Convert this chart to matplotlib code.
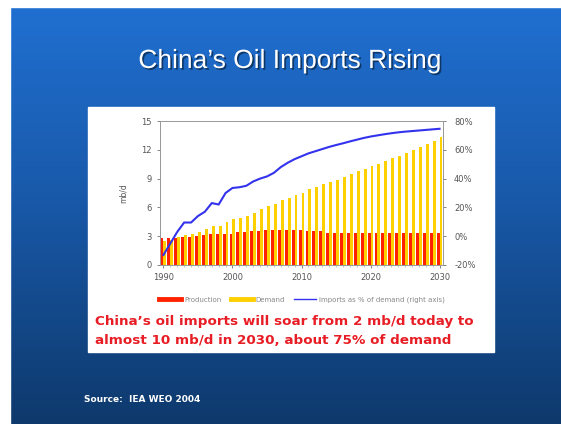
import numpy as np
import matplotlib
matplotlib.use("Agg")
import matplotlib.pyplot as plt
from matplotlib.lines import Line2D
from matplotlib.patches import Rectangle
import matplotlib.patheffects as pe

years = list(range(1990, 2031))
production = [2.8, 2.8, 2.85, 2.9, 2.95, 3.0, 3.15, 3.2, 3.2, 3.2,
              3.25, 3.4, 3.4, 3.5, 3.55, 3.6, 3.65, 3.6, 3.6, 3.6,
              3.6, 3.55, 3.55, 3.5, 3.3, 3.3, 3.3, 3.3, 3.3, 3.3,
              3.3, 3.3, 3.3, 3.3, 3.3, 3.3, 3.3, 3.3, 3.3, 3.3, 3.3]
demand = [2.45, 2.65, 2.9, 3.15, 3.2, 3.45, 3.7, 4.05, 4.1, 4.5,
          4.75, 4.85, 5.1, 5.45, 5.8, 6.1, 6.4, 6.75, 7.0, 7.25,
          7.5, 7.9, 8.15, 8.4, 8.65, 8.9, 9.2, 9.45, 9.75, 10.0,
          10.3, 10.55, 10.85, 11.1, 11.4, 11.65, 12.0, 12.3, 12.6, 12.95, 13.3]
imports_pct = [-13, -5, 3, 9.5, 9.5, 14, 17, 23, 22, 30,
               33.5, 34, 35, 38, 40, 41.5, 44, 48, 51, 53.5,
               55.5, 57.5, 59, 60.5, 62, 63.3, 64.5, 65.8, 67, 68.2,
               69.2, 70, 70.8, 71.5, 72.1, 72.6, 73, 73.4, 73.8, 74.2, 74.6]
left_ticks = [0, 3, 6, 9, 12, 15]
right_ticks = [-20, 0, 20, 40, 60, 80]
x_ticks = [1990, 2000, 2010, 2020, 2030]

W, H = 561, 424
fig = plt.figure(figsize=(W / 100, H / 100), dpi=100)

# background gradient
bg = fig.add_axes([0, 0, 1, 1], zorder=-10)
bg.set_axis_off()
top = np.array([0x20, 0x70, 0xd2]) / 255
mid = np.array([0x19, 0x5a, 0xab]) / 255
bot = np.array([0x0e, 0x39, 0x6c]) / 255
t = np.linspace(0, 1, 300)[:, None]
grad = np.where(t < 0.45, top + (mid - top) * (t / 0.45), mid + (bot - mid) * ((t - 0.45) / 0.55))
bg.imshow(grad[:, None, :].repeat(2, axis=1), aspect="auto", extent=[0, 1, 0, 1], origin="upper")
bg.set_xlim(0, 1)
bg.set_ylim(0, 1)
# white slide border (left and top)
bg.add_patch(Rectangle((0, 0), 10 / W, 1, color="white", transform=bg.transAxes))
bg.add_patch(Rectangle((0, 1 - 7 / H), 1, 7 / H, color="white", transform=bg.transAxes))
# white chart box
bg.add_patch(Rectangle((88 / W, 1 - 352 / H), 406 / W, 245 / H, color="white", transform=bg.transAxes))

# title
fig.text(290 / W, 1 - 61 / H, "China\u2019s Oil Imports Rising", color="white",
         fontsize=19, family="Liberation Sans", ha="center", va="center",
         path_effects=[pe.withSimplePatchShadow(offset=(1.2, -1.2), shadow_rgbFace="#0a2a50", alpha=0.8)])

# chart
ax = fig.add_axes([160 / W, 1 - 265 / H, 283 / W, 144 / H])
x = np.array(years)
ax.bar(x - 0.21, production, width=0.42, color="#ff2200", zorder=2)
ax.bar(x + 0.21, demand, width=0.42, color="#ffd000", zorder=2)
ax.set_xlim(1989.5, 2030.5)
ax.set_ylim(0, 15)
ax.set_yticks(left_ticks)
ax.set_xticks(x_ticks)
ax.set_xticks(years, minor=True)
ax.set_ylabel("mb/d", fontsize=5.5, color="#555555", labelpad=10)
for s in ax.spines.values():
    s.set_color("#999999")
    s.set_linewidth(0.6)
ax.tick_params(axis="both", labelsize=6, colors="#555555", length=2, width=0.5)
ax.tick_params(axis="x", which="minor", length=1.5, width=0.4, color="#999999")
ax.tick_params(axis="x", pad=4)
ax.tick_params(axis="y", pad=4)

ax2 = ax.twinx()
ax2.plot(x, imports_pct, color="#3333ee", lw=1.5, zorder=3)
ax2.set_ylim(-20, 80)
ax2.set_yticks(right_ticks)
ax2.set_yticklabels([f"{v}%" for v in right_ticks])
ax2.tick_params(axis="y", labelsize=6, colors="#555555", length=2, width=0.5, pad=6)
for s in ax2.spines.values():
    s.set_color("#999999")
    s.set_linewidth(0.6)

# legend
handles = [Line2D([0], [0], color="#ff2200", lw=3.5),
           Line2D([0], [0], color="#ffd000", lw=3.5),
           Line2D([0], [0], color="#3333ee", lw=1)]
labels = ["Production", "Demand", "Imports as % of demand (right axis)"]
fig.legend(handles, labels, loc="center", bbox_to_anchor=(302 / W, 1 - 300 / H),
           ncol=3, frameon=False, fontsize=5, labelcolor="#888888",
           handlelength=3.2, columnspacing=1.3, handletextpad=0.4)

# red caption
fig.text(95 / W, 1 - 322 / H, "China\u2019s oil imports will soar from 2 mb/d today to",
         color="#e81c24", fontsize=9.7, fontweight="bold", family="DejaVu Sans", ha="left", va="center")
fig.text(95 / W, 1 - 340 / H, "almost 10 mb/d in 2030, about 75% of demand",
         color="#e81c24", fontsize=9.7, fontweight="bold", family="DejaVu Sans", ha="left", va="center")

# source
fig.text(84 / W, 1 - 399 / H, "Source:  IEA WEO 2004", color="white", fontsize=6.5,
         fontweight="bold", family="DejaVu Sans", ha="left", va="center")

fig.savefig("out.png", dpi=100)
